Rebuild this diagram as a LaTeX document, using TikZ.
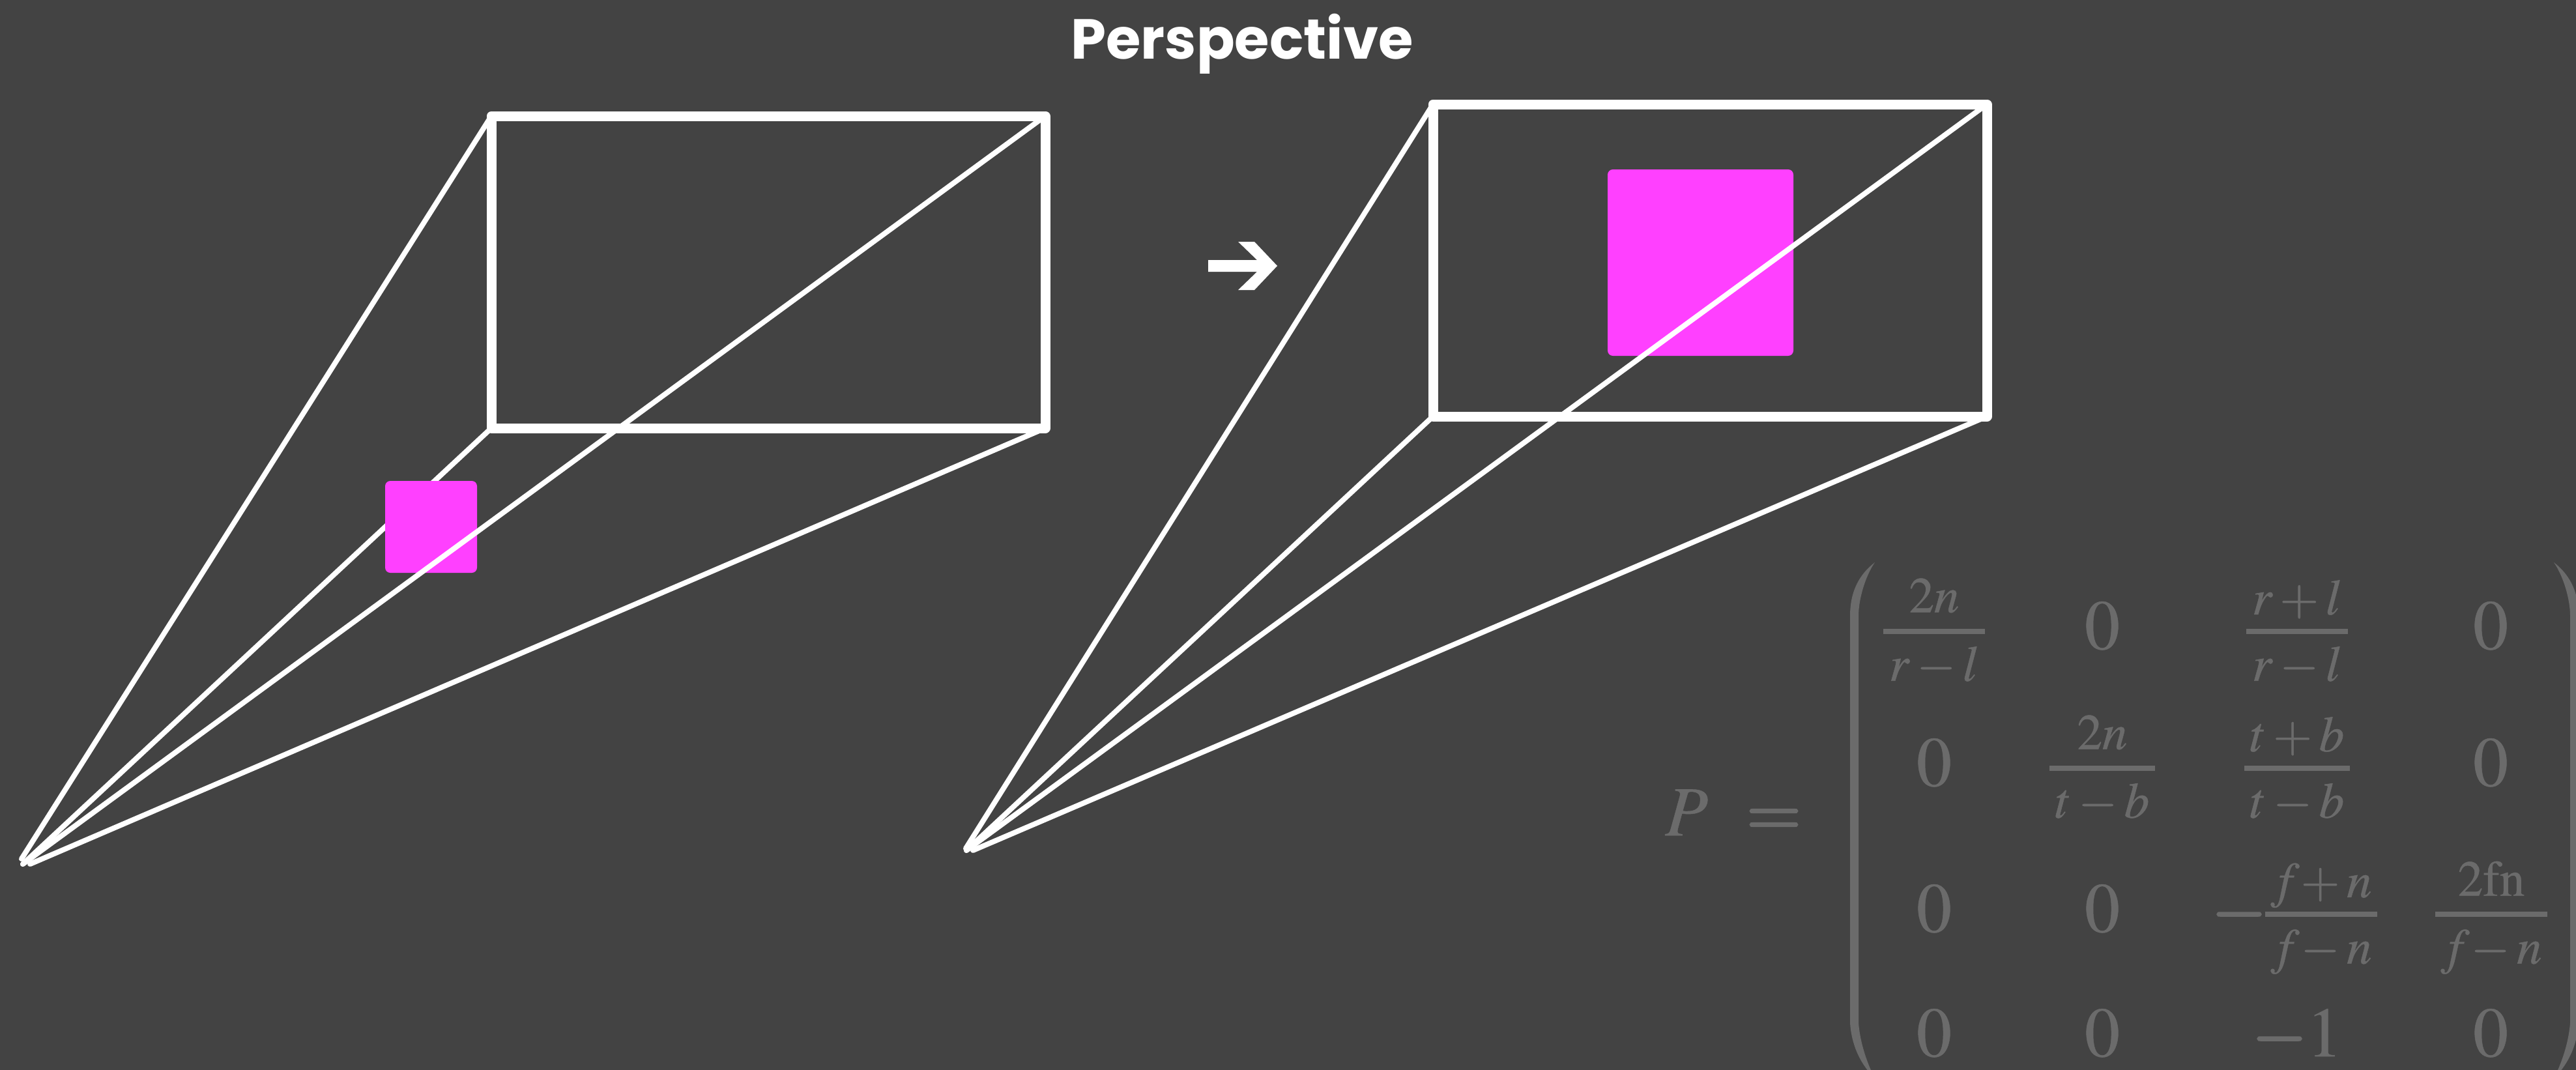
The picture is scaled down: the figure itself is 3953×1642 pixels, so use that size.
\documentclass[tikz,border=0pt]{standalone}
\usepackage{amsmath}
\usepackage{mathptmx}
\usepackage[no-math]{fontspec}
\newfontfamily\titlefont{Poppins}[Scale=1.0]
\definecolor{bggray}{HTML}{434343}
\definecolor{matgray}{HTML}{6B6B6B}
\definecolor{squarepink}{HTML}{FF40FF}
\newcommand{\inkw}[1]{\special{pdf:code 2 Tr #1 w}}
\newcommand{\barfrac}[2]{\genfrac{}{}{2.3pt}{0}%
    {\raisebox{-2pt}[0pt][0pt]{$\mkern2mu #1\mkern2mu$}}%
    {\raisebox{-1.1pt}[0pt][0pt]{$\mkern2mu #2\mkern2mu$}}}
\tikzset{
    frustumbox/.style={draw=white, line width=0.15cm, line join=round},
    frustumline/.style={draw=white, line width=0.08cm, line cap=round},
    cullsquare/.style={fill=squarepink, rounded corners=0.08cm},
    matcell/.style={text=matgray, anchor=base, inner sep=0pt, font=\fontsize{30.7}{31}\selectfont,
        execute at begin node={\inkw{0.15}}},
    matfrac/.style={text=matgray, anchor=base, inner sep=0pt, font=\fontsize{21.9}{22}\selectfont,
        execute at begin node={\inkw{0.15}}},
}
\begin{document}
\begin{tikzpicture}[x=0.01cm, y=-0.01cm]

            \fill[bggray] (0,0) rectangle (3953,1642);
            \useasboundingbox (0,0) rectangle (3953,1642);

            \node[text=white, anchor=base, inner sep=0pt, font=\titlefont\bfseries\fontsize{24.6}{25}\selectfont] (title) at (1906,90) {Perspective};

            % before
            \begin{scope}
                \coordinate (tl) at (754,178);
                \coordinate (tr) at (1604,178);
                \coordinate (br) at (1604,657);
                \coordinate (bl) at (754,657);
                \coordinate (eyea) at (33,1318);
                \coordinate (eyeb) at (35,1326);
                \coordinate (eyec) at (46,1326);

                \draw[frustumline] (eyeb) -- (bl);
                \fill[cullsquare] (591,738) rectangle (732,879);
                \draw[frustumline] (eyea) -- (tl);
                \draw[frustumline] (eyeb) -- (tr);
                \draw[frustumline] (eyec) -- (br);
                \draw[frustumbox] (tl) -- (tr) -- (br) -- (bl) -- cycle;
            \end{scope}

            % arrow between the two
            \fill[white] (1854,399) -- (1929,399) -- (1900,371) -- (1925,371) -- (1960,408)
                -- (1925,445) -- (1900,445) -- (1929,417) -- (1854,417) -- cycle;

            % after
            \begin{scope}[shift={(1445,-18)}]
                \coordinate (tl) at (754,178);
                \coordinate (tr) at (1604,178);
                \coordinate (br) at (1604,657);
                \coordinate (bl) at (754,657);
                \coordinate (eyea) at (37,1320);
                \coordinate (eyeb) at (38,1323);
                \coordinate (eyec) at (48,1323);

                \draw[frustumline] (eyeb) -- (bl);
                \fill[cullsquare] (1022,278) rectangle (1307,564);
                \draw[frustumline] (eyea) -- (tl);
                \draw[frustumline] (eyeb) -- (tr);
                \draw[frustumline] (eyec) -- (br);
                \draw[frustumbox] (tl) -- (tr) -- (br) -- (bl) -- cycle;
            \end{scope}

            % matrix
            \node[matcell] (lhs) at (2588,1282) {$P$};
            \node[matcell] (eq) at (2722,1282) {$\inkw{0.8}=$};

            \fill[matgray] (2877,863) .. controls (2855,880) and (2839,905) .. (2839,945)
                -- (2839,1570) .. controls (2841,1600) and (2852,1630) .. (2877,1655)
                .. controls (2862,1625) and (2854,1595) .. (2852,1570)
                -- (2852,945) .. controls (2852,920) and (2862,885) .. (2877,863) -- cycle;
            \fill[matgray] (3919,863) .. controls (3941,880) and (3957,905) .. (3957,945)
                -- (3957,1570) .. controls (3955,1600) and (3944,1630) .. (3919,1655)
                .. controls (3934,1625) and (3942,1595) .. (3944,1570)
                -- (3944,945) .. controls (3944,920) and (3934,885) .. (3919,863) -- cycle;

            \foreach \name/\cx/\cy in {a/3226/996, b/3822/996, c/2968/1206, d/3822/1206,
                e/2968/1430, f/3226/1430, g/2968/1621, h/3226/1621, i/3822/1621} {
                \node[matcell] (m\name) at (\cx,\cy) {$0$};
            }
            \node[matcell] (mone) at (3525,1621) {$\inkw{0.9}-\inkw{0.15}1$};
            \node[matcell] (mminus) at (3436,1430) {$\inkw{0.9}-$};

            \node[matfrac] (fa) at (2968,988) {$\barfrac{2n}{r-l}$};
            \node[matfrac] (fb) at (3525,988) {$\barfrac{r+l}{r-l}$};
            \node[matfrac] (fc) at (3226,1198) {$\barfrac{2n}{t-b}$};
            \node[matfrac] (fd) at (3525,1198) {$\barfrac{t+b}{t-b}$};
            \node[matfrac] (fe) at (3562,1422) {$\barfrac{f\mkern-2mu+n}{f\mkern-2mu-n}$};
            \node[matfrac] (ff) at (3823,1422) {$\barfrac{2\mathrm{fn}}{f\mkern-2mu-n}$};

        \end{tikzpicture}
\end{document}
